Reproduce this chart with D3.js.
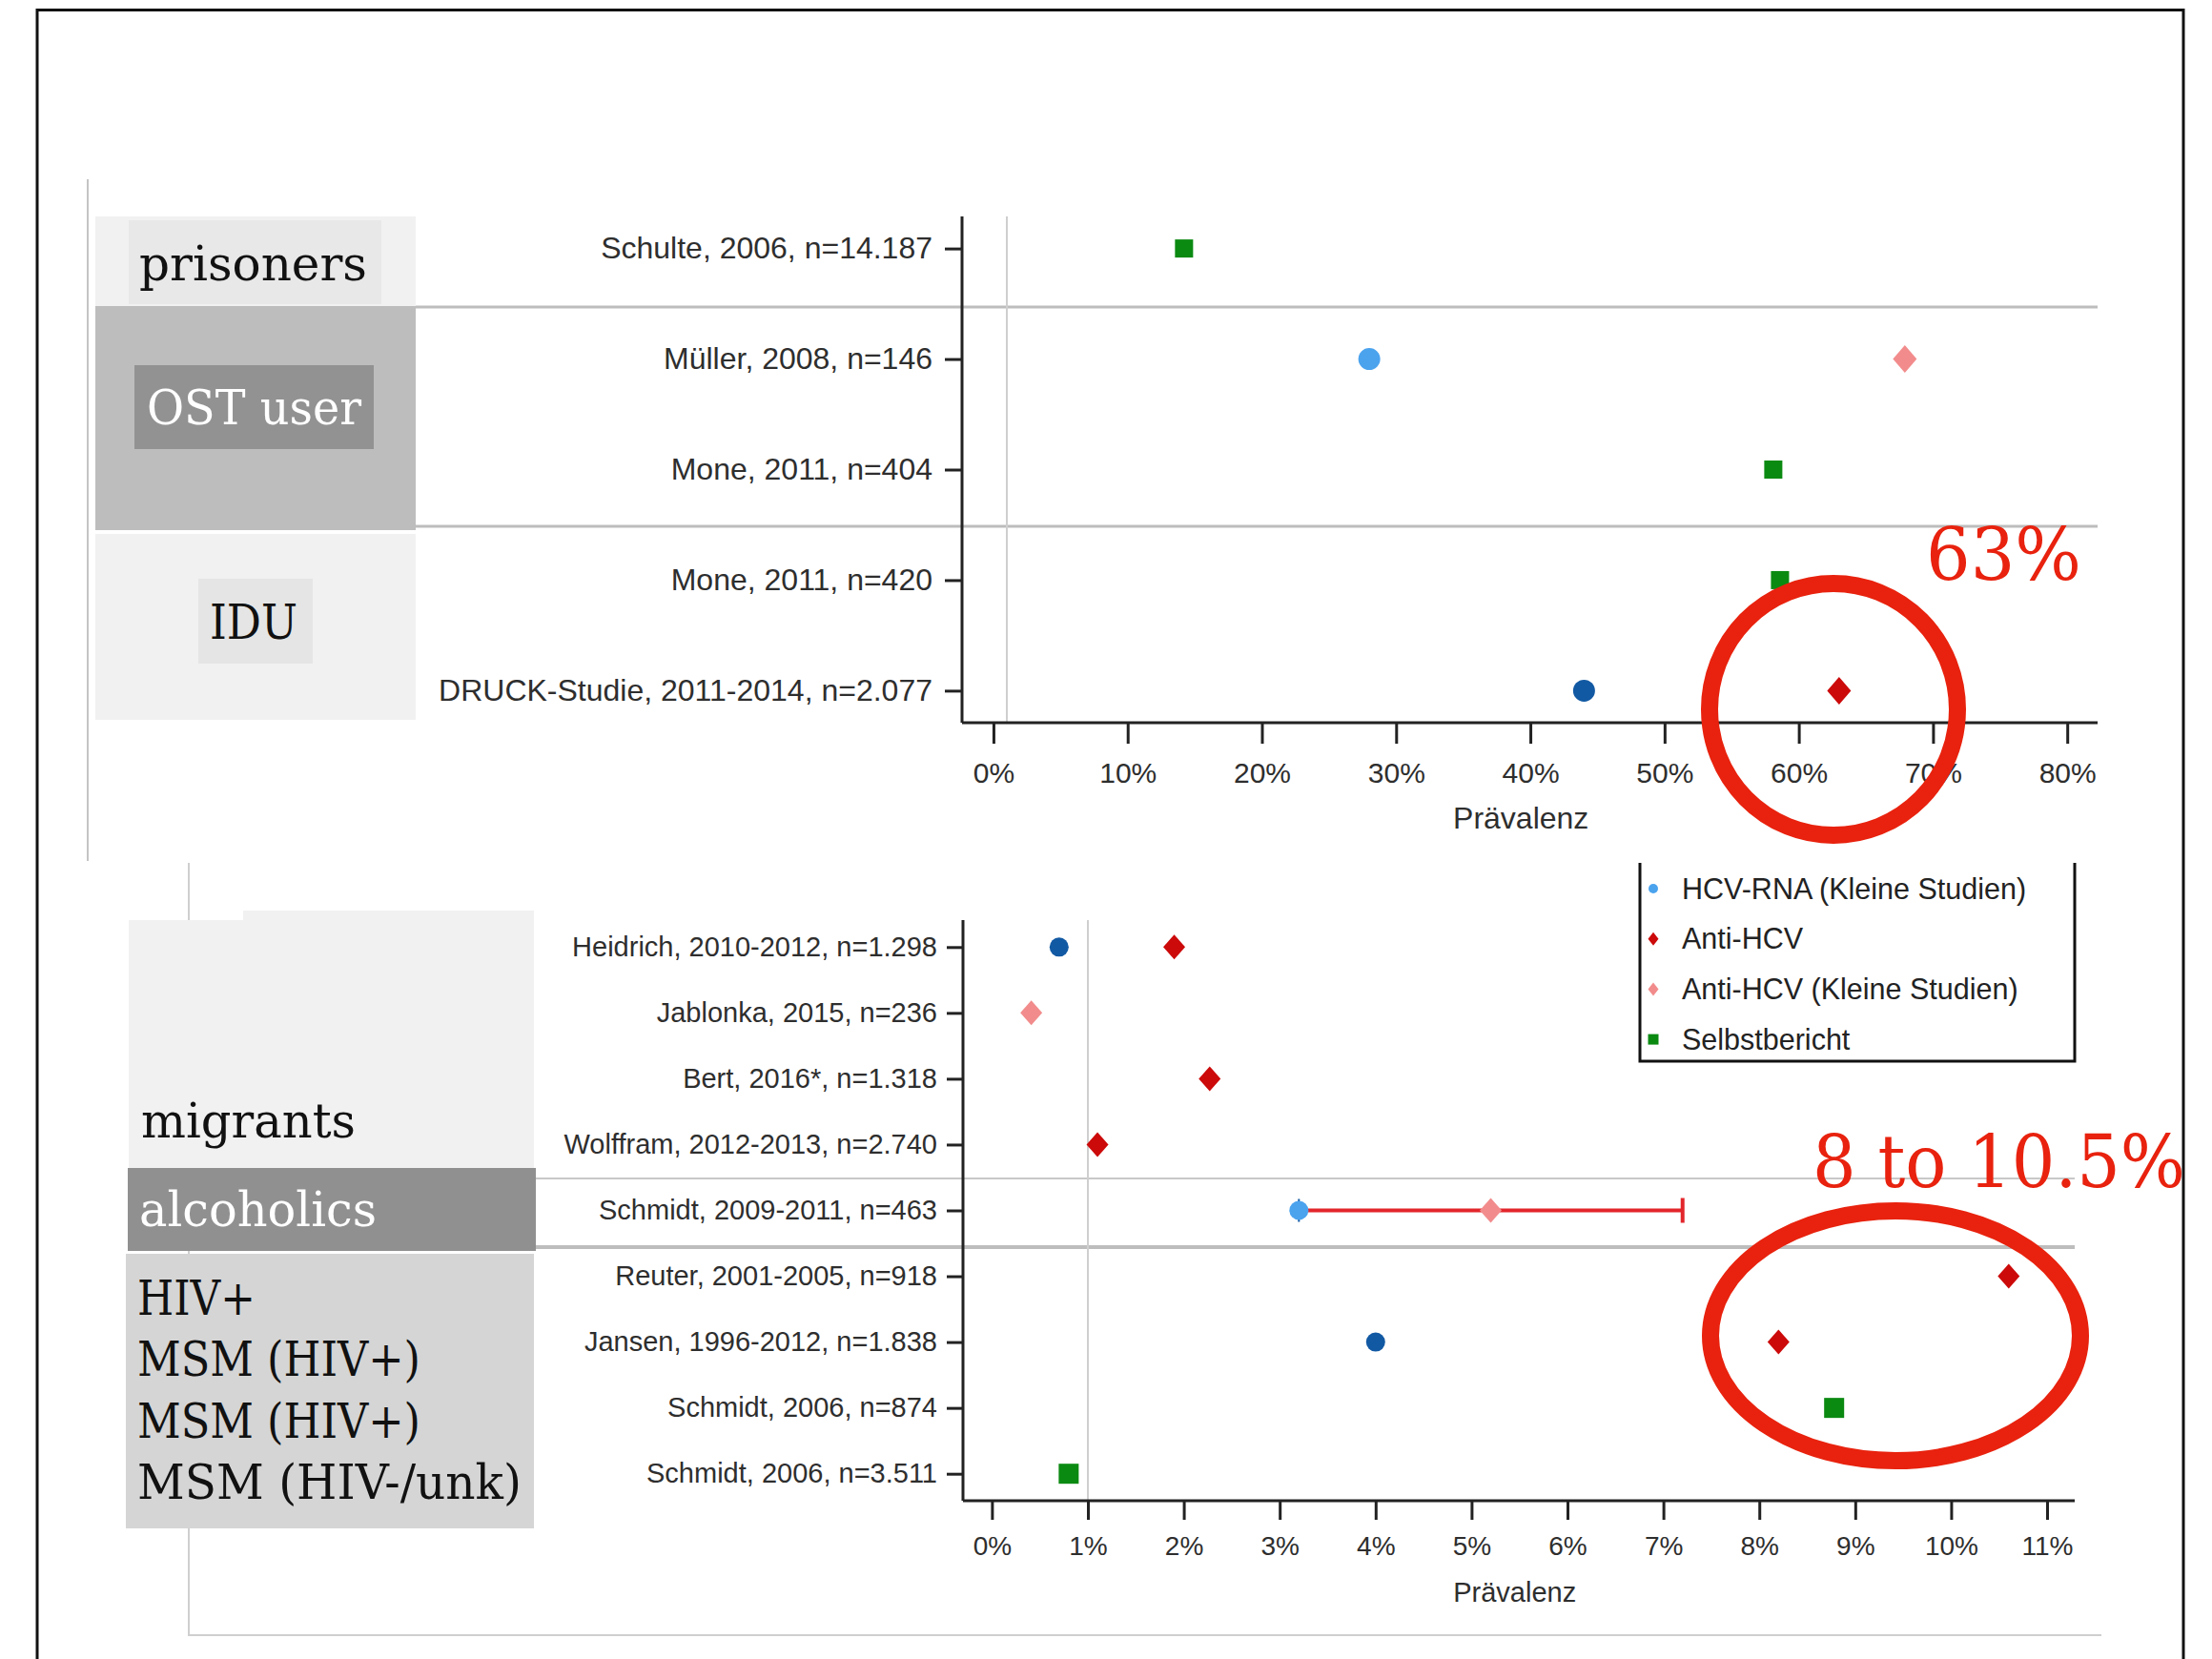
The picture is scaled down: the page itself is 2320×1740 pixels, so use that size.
<!DOCTYPE html>
<html>
<head>
<meta charset="utf-8">
<script src="https://cdn.jsdelivr.net/npm/d3@7"></script>
<style>
  html, body { margin: 0; padding: 0; background: #fff; }
  svg { display: block; }
</style>
</head>
<body>
<svg id="chart" width="2320" height="1740"></svg>
<script>
// ---------------- DATA ----------------
// Top panel (prevalence %, 0–80)
const topStudies = [
  "Schulte, 2006, n=14.187",
  "Müller, 2008, n=146",
  "Mone, 2011, n=404",
  "Mone, 2011, n=420",
  "DRUCK-Studie, 2011-2014, n=2.077"
];
const topHcvRna       = [null, null, null, null, 44.0];
const topHcvRnaSmall  = [null, 28.0, null, null, null];
const topAntiHcv      = [null, null, null, null, 63.0];
const topAntiHcvSmall = [null, 67.9, null, null, null];
const topSelfReport   = [14.2, null, 58.1, 58.6, null];
const topTicks = [0, 10, 20, 30, 40, 50, 60, 70, 80];

// Bottom panel (prevalence %, 0–11)
const botStudies = [
  "Heidrich, 2010-2012, n=1.298",
  "Jablonka, 2015, n=236",
  "Bert, 2016*, n=1.318",
  "Wolffram, 2012-2013, n=2.740",
  "Schmidt, 2009-2011, n=463",
  "Reuter, 2001-2005, n=918",
  "Jansen, 1996-2012, n=1.838",
  "Schmidt, 2006, n=874",
  "Schmidt, 2006, n=3.511"
];
const botHcvRna       = [0.70, null, null, null, null, null, 4.0, null, null];
const botHcvRnaSmall  = [null, null, null, null, 3.2, null, null, null, null];
const botAntiHcv      = [1.9, null, 2.27, 1.1, null, 10.6, 8.2, null, null];
const botAntiHcvSmall = [null, 0.41, null, null, 5.2, null, null, null, null];
const botSelfReport   = [null, null, null, null, null, null, null, 8.78, 0.8];
const botRangeLow     = [null, null, null, null, 3.2, null, null, null, null];
const botRangeHigh    = [null, null, null, null, 7.2, null, null, null, null];
const botTicks = [0, 1, 2, 3, 4, 5, 6, 7, 8, 9, 10, 11];

// Legend
const legendLabels = ["HCV-RNA (Kleine Studien)", "Anti-HCV", "Anti-HCV (Kleine Studien)", "Selbstbericht"];
const legendKinds  = ["rnaSmall", "anti", "antiSmall", "self"];

// Group labels
const topGroups = ["prisoners", "OST user", "IDU"];
const botGroups = ["migrants", "alcoholics"];
const hivLines  = ["HIV+", "MSM (HIV+)", "MSM (HIV+)", "MSM (HIV-/unk)"];

// Annotations
const annoTop = "63%";
const annoBot = "8 to 10.5%";

// ---------------- STYLE ----------------
const COL = {
  rna: "#1259a3",
  rnaSmall: "#4ba3ee",
  anti: "#cc0a0a",
  antiSmall: "#f28c8c",
  self: "#0b8a12",
  anno: "#e8220e",
  text: "#2e2e2e"
};
const SANS = "'Liberation Sans', Arial, sans-serif";
const SERIF = "'DejaVu Serif', serif";

const svg = d3.select("#chart");

// outer frame
svg.append("rect").attr("x", 39).attr("y", 10.5).attr("width", 2251).attr("height", 1780)
  .attr("fill", "none").attr("stroke", "#111").attr("stroke-width", 3);

// panel guide lines
svg.append("line").attr("x1", 92).attr("x2", 92).attr("y1", 188).attr("y2", 903)
  .attr("stroke", "#c4c4c4").attr("stroke-width", 2);
svg.append("path").attr("d", "M198,905 V1715 H2204")
  .attr("fill", "none").attr("stroke", "#cfcfcf").attr("stroke-width", 2);

// ---------------- MARKERS ----------------
// size: [circle r, diamond half-width, diamond half-height, square half-side]
function drawMarker(g, kind, x, y, sz) {
  if (kind === "rna" || kind === "rnaSmall") {
    g.append("circle").attr("cx", x).attr("cy", y).attr("r", sz[0]).attr("fill", COL[kind]);
  } else if (kind === "anti" || kind === "antiSmall") {
    const w = sz[1], h = sz[2];
    g.append("path").attr("d", `M${x},${y - h}L${x + w},${y}L${x},${y + h}L${x - w},${y}Z`).attr("fill", COL[kind]);
  } else {
    const a = sz[3];
    g.append("rect").attr("x", x - a).attr("y", y - a).attr("width", 2 * a).attr("height", 2 * a).attr("fill", COL[kind]);
  }
}
const SZ_TOP = [11.5, 12.5, 14.5, 9.5];
const SZ_BOT = [10, 11.5, 13, 10.5];
const SZ_LEG = [5, 5.5, 7, 5.5];

function seriesPoints(studies, arr, kind) {
  return studies.map((s, i) => ({ study: s, v: arr[i], kind })).filter(d => d.v != null);
}

// ---------------- TOP PANEL ----------------
const tg = svg.append("g");
tg.append("rect").attr("x", 100).attr("y", 227).attr("width", 336).attr("height", 95).attr("fill", "#f1f1f1");
tg.append("rect").attr("x", 135).attr("y", 231).attr("width", 265).attr("height", 88).attr("fill", "#e8e8e8");
tg.append("rect").attr("x", 100).attr("y", 321).attr("width", 336).attr("height", 235).attr("fill", "#bdbdbd");
tg.append("rect").attr("x", 141).attr("y", 383).attr("width", 251).attr("height", 88).attr("fill", "#929292");
tg.append("rect").attr("x", 100).attr("y", 560).attr("width", 336).attr("height", 195).attr("fill", "#f1f1f1");
tg.append("rect").attr("x", 208).attr("y", 607).attr("width", 120).attr("height", 89).attr("fill", "#e5e5e5");

function serifText(g, txt, x, y, fill, len) {
  const t = g.append("text").attr("x", x).attr("y", y).attr("fill", fill)
    .attr("font-family", SERIF).attr("font-size", 50).text(txt);
  if (len) t.attr("textLength", len).attr("lengthAdjust", "spacingAndGlyphs");
  return t;
}
serifText(tg, topGroups[0], 146, 294, "#111", 239);
serifText(tg, topGroups[1], 154, 445, "#fff", 225);
serifText(tg, topGroups[2], 220, 670, "#111", 92);

const xTop = d3.scaleLinear().domain([-2.34, 82.26]).range([1009, 2200]);
const yTop = d3.scalePoint().domain(topStudies).range([227, 758]).padding(0.29);

[322, 552].forEach(y => {
  svg.append("line").attr("x1", 436).attr("x2", 2200).attr("y1", y).attr("y2", y)
    .attr("stroke", "#bdbdbd").attr("stroke-width", 3);
});
svg.append("line").attr("x1", xTop(1)).attr("x2", xTop(1)).attr("y1", 227).attr("y2", 758)
  .attr("stroke", "#cfcfcf").attr("stroke-width", 2);

const xAxisTop = svg.append("g").attr("transform", "translate(0,758)")
  .call(d3.axisBottom(xTop).tickValues(topTicks).tickSize(22).tickPadding(20).tickFormat(d => d + "%"));
const yAxisTop = svg.append("g").attr("transform", "translate(1009,0)")
  .call(d3.axisLeft(yTop).tickSize(18).tickPadding(13));

function styleAxis(ax, fs) {
  ax.select(".domain").attr("stroke", "#222").attr("stroke-width", 3);
  ax.selectAll(".tick line").attr("stroke", "#222").attr("stroke-width", 3);
  ax.selectAll(".tick text").attr("fill", COL.text).attr("font-family", SANS).attr("font-size", fs);
}
styleAxis(xAxisTop, 30);
styleAxis(yAxisTop, 32);
yAxisTop.select(".domain").attr("d", "M0,227V758");
xAxisTop.select(".domain").attr("d", `M${xTop.range()[0]},0H${xTop.range()[1]}`);

svg.append("text").attr("x", xTop(39.3)).attr("y", 869).attr("text-anchor", "middle")
  .attr("font-family", SANS).attr("font-size", 32).attr("fill", COL.text).text("Prävalenz");

const topMarks = svg.append("g");
[].concat(
  seriesPoints(topStudies, topSelfReport, "self"),
  seriesPoints(topStudies, topHcvRna, "rna"),
  seriesPoints(topStudies, topHcvRnaSmall, "rnaSmall"),
  seriesPoints(topStudies, topAntiHcv, "anti"),
  seriesPoints(topStudies, topAntiHcvSmall, "antiSmall")
).forEach(d => drawMarker(topMarks, d.kind, xTop(d.v), yTop(d.study), SZ_TOP));

// ---------------- BOTTOM PANEL ----------------
const bg = svg.append("g");
bg.append("rect").attr("x", 135).attr("y", 965).attr("width", 425).attr("height", 260).attr("fill", "#f1f1f1");
bg.append("rect").attr("x", 255).attr("y", 955).attr("width", 305).attr("height", 270).attr("fill", "#f1f1f1");
bg.append("rect").attr("x", 134).attr("y", 1225).attr("width", 428).attr("height", 87).attr("fill", "#909090");
bg.append("rect").attr("x", 132).attr("y", 1315).attr("width", 428).attr("height", 288).attr("fill", "#d5d5d5");
serifText(bg, botGroups[0], 148, 1193, "#111", 225);
serifText(bg, botGroups[1], 146, 1286, "#fff", 249);
const hivLens = [124, 297, 297, 403];
hivLines.forEach((t, i) => serifText(bg, t, 144, 1379 + i * 64.3, "#111", hivLens[i]));

const xBot = d3.scaleLinear().domain([-0.302, 11.288]).range([1010, 2176]);
const yBot = d3.scalePoint().domain(botStudies).range([965, 1574]).padding(0.41);

svg.append("line").attr("x1", 562).attr("x2", 2176).attr("y1", 1236).attr("y2", 1236)
  .attr("stroke", "#c8c8c8").attr("stroke-width", 2);
svg.append("line").attr("x1", 562).attr("x2", 2176).attr("y1", 1308).attr("y2", 1308)
  .attr("stroke", "#bdbdbd").attr("stroke-width", 4);
svg.append("line").attr("x1", xBot(1)).attr("x2", xBot(1)).attr("y1", 965).attr("y2", 1574)
  .attr("stroke", "#cfcfcf").attr("stroke-width", 2);

const xAxisBot = svg.append("g").attr("transform", "translate(0,1574)")
  .call(d3.axisBottom(xBot).tickValues(botTicks).tickSize(20).tickPadding(17).tickFormat(d => d + "%"));
const yAxisBot = svg.append("g").attr("transform", "translate(1010,0)")
  .call(d3.axisLeft(yBot).tickSize(17).tickPadding(10));
styleAxis(xAxisBot, 28);
styleAxis(yAxisBot, 29);
yAxisBot.select(".domain").attr("d", "M0,965V1574");
xAxisBot.select(".domain").attr("d", `M${xBot.range()[0]},0H${xBot.range()[1]}`);

svg.append("text").attr("x", xBot(5.45)).attr("y", 1680).attr("text-anchor", "middle")
  .attr("font-family", SANS).attr("font-size", 29).attr("fill", COL.text).text("Prävalenz");

const botMarks = svg.append("g");
botStudies.forEach((s, i) => {
  if (botRangeLow[i] == null) return;
  const y = yBot(s);
  botMarks.append("line").attr("x1", xBot(botRangeLow[i])).attr("x2", xBot(botRangeHigh[i]))
    .attr("y1", y).attr("y2", y).attr("stroke", "#e2262b").attr("stroke-width", 4);
  botMarks.append("line").attr("x1", xBot(botRangeHigh[i])).attr("x2", xBot(botRangeHigh[i]))
    .attr("y1", y - 13).attr("y2", y + 13).attr("stroke", "#e2262b").attr("stroke-width", 4);
  botMarks.append("line").attr("x1", xBot(botRangeLow[i])).attr("x2", xBot(botRangeLow[i]))
    .attr("y1", y - 12).attr("y2", y + 12).attr("stroke", COL.rna).attr("stroke-width", 2);
});
[].concat(
  seriesPoints(botStudies, botSelfReport, "self"),
  seriesPoints(botStudies, botHcvRna, "rna"),
  seriesPoints(botStudies, botHcvRnaSmall, "rnaSmall"),
  seriesPoints(botStudies, botAntiHcv, "anti"),
  seriesPoints(botStudies, botAntiHcvSmall, "antiSmall")
).forEach(d => drawMarker(botMarks, d.kind, xBot(d.v), yBot(d.study), SZ_BOT));

// ---------------- LEGEND ----------------
const lg = svg.append("g");
lg.append("path").attr("d", "M1720,905V1113H2176V905").attr("fill", "none")
  .attr("stroke", "#111").attr("stroke-width", 3);
legendLabels.forEach((t, i) => {
  const y = 932 + i * 52.7;
  drawMarker(lg, legendKinds[i], 1734, y, SZ_LEG);
  lg.append("text").attr("x", 1764).attr("y", y).attr("dy", "0.35em")
    .attr("font-family", SANS).attr("font-size", 30.5).attr("fill", "#222").text(t);
});

// ---------------- ANNOTATIONS ----------------
const an = svg.append("g");
an.append("ellipse").attr("cx", 1923).attr("cy", 744).attr("rx", 130).attr("ry", 132)
  .attr("fill", "none").attr("stroke", COL.anno).attr("stroke-width", 18);
an.append("ellipse").attr("cx", 1988).attr("cy", 1401).attr("rx", 194).attr("ry", 131)
  .attr("fill", "none").attr("stroke", COL.anno).attr("stroke-width", 18);
an.append("text").attr("x", 2020).attr("y", 608).attr("fill", COL.anno)
  .attr("font-family", SERIF).attr("font-size", 76).attr("textLength", 163)
  .attr("lengthAdjust", "spacingAndGlyphs").text(annoTop);
an.append("text").attr("x", 1901).attr("y", 1245).attr("fill", COL.anno)
  .attr("font-family", SERIF).attr("font-size", 76).attr("textLength", 391)
  .attr("lengthAdjust", "spacingAndGlyphs").text(annoBot);
</script>
</body>
</html>
